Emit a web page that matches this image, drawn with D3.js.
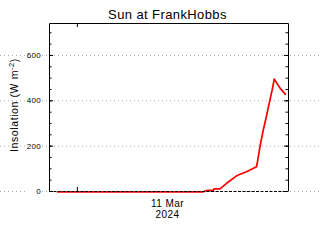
<!DOCTYPE html>
<html>
<head>
<meta charset="utf-8">
<script src="https://cdn.jsdelivr.net/npm/d3@7"></script>
<style>
  body { margin: 0; background: #fff; }
  svg { display: block; font-family: "Liberation Sans", Arial, sans-serif; }
</style>
</head>
<body>
<svg id="chart" width="320" height="240"></svg>
<script>
// --- DATA (UTC times, insolation W m^-2) ---
const times = [
  "2024-03-10T22:00", "2024-03-11T04:00", "2024-03-11T10:00", "2024-03-11T12:40",
  "2024-03-11T12:52", "2024-03-11T13:06", "2024-03-11T13:42", "2024-03-11T13:46",
  "2024-03-11T14:22", "2024-03-11T15:02", "2024-03-11T16:02", "2024-03-11T17:02",
  "2024-03-11T18:02", "2024-03-11T18:08", "2024-03-11T18:23", "2024-03-11T18:43",
  "2024-03-11T18:59", "2024-03-11T19:23", "2024-03-11T19:39", "2024-03-11T19:49",
  "2024-03-11T20:23", "2024-03-11T20:59"
];
const values = [
  -4, -4, -4, -4,
  0, 3, 3, 9,
  9, 34, 67, 85,
  107, 129, 195, 269,
  320, 401, 454, 494,
  455, 424
];
const yMajorTicks = [0, 200, 400, 600];
const title = "Sun at FrankHobbs";
const yLabel = "Insolation (W m";
const timeStart = "2024-03-10T21:12";
const timeEnd = "2024-03-11T21:12";
const yMax = 741;

const parse = d3.utcParse("%Y-%m-%dT%H:%M");
const data = times.map((t, i) => ({ t: parse(t), v: values[i] }));

const svg = d3.select("#chart");
const W = 320, H = 240;
const m = { top: 23, right: 32, bottom: 49, left: 49 };
const w = W - m.left - m.right;
const h = H - m.top - m.bottom;

const x = d3.scaleUtc().domain([parse(timeStart), parse(timeEnd)]).range([0, w]);
const y = d3.scaleLinear().domain([0, yMax]).range([h, 0]);

const g = svg.append("g").attr("transform", `translate(${m.left},${m.top})`);

// dotted grid, running across the whole picture
yMajorTicks.forEach(v => {
  [[-m.left, -24], [-7, w + m.right]].forEach(([a, b]) => {
    g.append("line")
      .attr("x1", a).attr("x2", b)
      .attr("y1", y(v) + 0.5).attr("y2", y(v) + 0.5)
      .attr("stroke", "#aaa").attr("stroke-width", 1)
      .attr("stroke-dasharray", "1,3");
  });
});

// left / right axes (ticks inward)
const minor = d3.range(0, yMax, 50);
g.append("g").call(d3.axisLeft(y).tickValues(minor).tickSize(-2.5).tickFormat(""));
g.append("g").call(d3.axisLeft(y).tickValues(yMajorTicks).tickSize(-4).tickPadding(8)
  .tickFormat(d3.format("d")));
g.append("g").attr("transform", `translate(${w},0)`)
  .call(d3.axisRight(y).tickValues(minor).tickSize(-2.5).tickFormat(""));
g.append("g").attr("transform", `translate(${w},0)`)
  .call(d3.axisRight(y).tickValues(yMajorTicks).tickSize(-4).tickFormat(""));

// bottom / top: day boundary ticks
const days = d3.utcDay.range(x.domain()[0], x.domain()[1]);
g.append("g").attr("transform", `translate(0,${h})`)
  .call(d3.axisBottom(x).tickValues(days).tickSize(-4).tickFormat(""));
g.append("g").call(d3.axisTop(x).tickValues(days).tickSize(-4).tickFormat(""));

g.selectAll(".domain").remove();
g.selectAll(".tick line").attr("stroke", "#000");
g.selectAll(".tick text").style("font-size", "8px").attr("fill", "#000")
  .attr("letter-spacing", "0.3");

// date label in the middle of the axis
const mid = x.invert(w / 2);
g.append("text").attr("x", w / 2 - 1).attr("y", h + 15.5)
  .attr("text-anchor", "middle").style("font-size", "10px")
  .attr("letter-spacing", "0.4")
  .text(d3.utcFormat("%-d %b")(mid));
g.append("text").attr("x", w / 2 - 1).attr("y", h + 26.5)
  .attr("text-anchor", "middle").style("font-size", "10px")
  .attr("letter-spacing", "0.4")
  .text(d3.utcFormat("%Y")(mid));

// data line
const line = d3.line().x(d => x(d.t)).y(d => y(d.v));
g.append("path").datum(data)
  .attr("d", line)
  .attr("fill", "none")
  .attr("stroke", "#ff0000")
  .attr("stroke-width", 1.7)
  .attr("stroke-linejoin", "round");

// frame: solid left/top/right, dashed zero line at the bottom
g.append("path")
  .attr("d", `M0.5,${h + 0.5}V0.5H${w + 0.5}V${h + 0.5}`)
  .attr("fill", "none").attr("stroke", "#000").attr("stroke-width", 1);
g.append("line")
  .attr("x1", 0).attr("x2", w)
  .attr("y1", h + 0.5).attr("y2", h + 0.5)
  .attr("stroke", "#000").attr("stroke-width", 1)
  .attr("stroke-dasharray", "3,1.5");

// title
svg.append("text").attr("x", m.left + w / 2 - 1).attr("y", 19)
  .attr("text-anchor", "middle").style("font-size", "13px")
  .attr("letter-spacing", "0.4")
  .text(title);

// y label
const yl = svg.append("text")
  .attr("transform", `translate(18,${m.top + h / 2 - 2}) rotate(-90)`)
  .attr("text-anchor", "middle").style("font-size", "10.5px")
  .attr("letter-spacing", "0.6");
yl.append("tspan").text(yLabel);
yl.append("tspan").attr("dy", -4).style("font-size", "7.5px").text("-2");
yl.append("tspan").attr("dy", 4).text(")");
</script>
</body>
</html>
